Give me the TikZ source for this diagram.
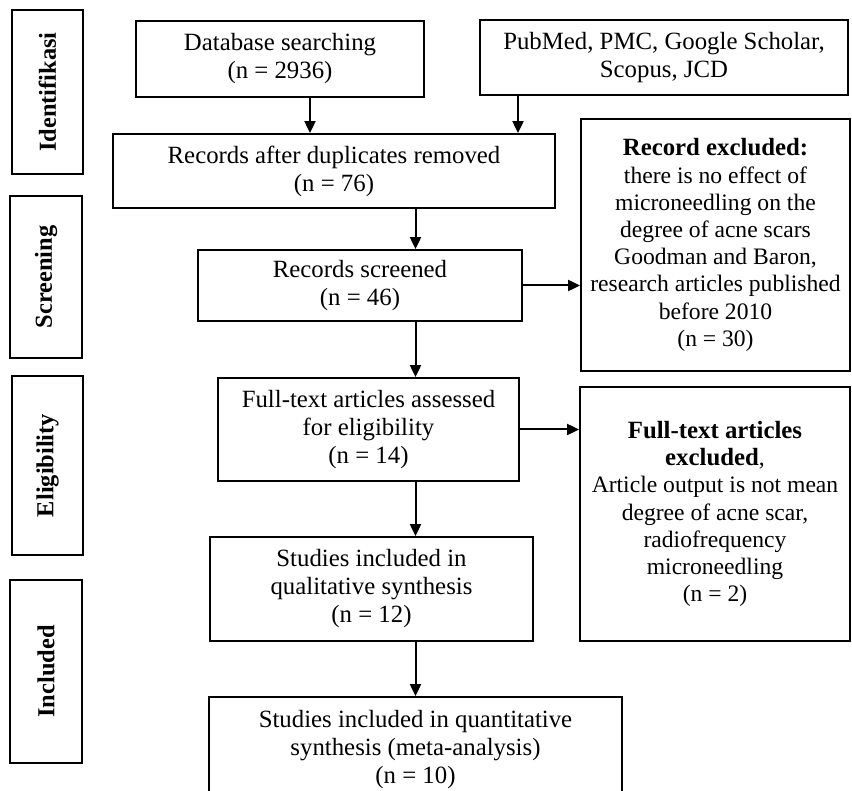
\documentclass[tikz,border=0pt]{standalone}
\usepackage{fontspec}
\setmainfont{Liberation Serif}
\usetikzlibrary{positioning,arrows.meta}

\begin{document}
\begin{tikzpicture}[
  x=0.5pt,y=-0.5pt,
  every node/.style={font=\fontsize{12.4}{14}\selectfont,align=center,inner sep=2pt},
  box/.style={draw,line width=0.9pt,rectangle},
  side/.style={box,font=\fontsize{11.8}{13.6}\selectfont},
  phase/.style={box,rotate=90,font=\fontsize{12.2}{14}\selectfont\bfseries},
  arr/.style={-{Triangle[length=6pt,width=5.5pt]},line width=1pt}
]
  \useasboundingbox (0,0) rectangle (852,791);

  % phase labels
  \node[phase,minimum width=82pt,minimum height=35.5pt] (ident) at (47.5,92) {Identifikasi};
  \node[phase,minimum width=81pt,minimum height=36pt] (screen) at (46,277) {Screening};
  \node[phase,minimum width=89.5pt,minimum height=35.5pt] (elig) at (47.5,465.5) {Eligibility};
  \node[phase,minimum width=91.5pt,minimum height=36pt] (incl) at (46,671.5) {Included};

  % flow boxes
  \node[box,minimum width=144pt,minimum height=38pt] (db) at (280,59) {Database searching\\(n = 2936)};
  \node[box,minimum width=184pt,minimum height=37.5pt] (src) at (664,57.5) {PubMed, PMC, Google Scholar,\\Scopus, JCD};
  \node[box,minimum width=221pt,minimum height=37pt] (dup) at (334,171) {Records after duplicates removed\\(n = 76)};
  \node[box,minimum width=162pt,minimum height=35.5pt] (scr) at (360,285.5) {Records screened\\(n = 46)};
  \node[side,minimum width=134.5pt,minimum height=126pt] (excl) at (715.5,245) {\textbf{\fontsize{12.4}{14}\selectfont Record excluded:}\\there is no effect of\\microneedling on the\\degree of acne scars\\Goodman and Baron,\\research articles published\\before 2010\\(n = 30)};
  \node[box,minimum width=150.5pt,minimum height=51.5pt] (full) at (368.5,429.5) {Full-text articles assessed\\for eligibility\\(n = 14)};
  \node[side,minimum width=135pt,minimum height=127pt] (fullex) at (715,514) {\textbf{\fontsize{12.4}{14}\selectfont Full-text articles}\\\textbf{\fontsize{12.4}{14}\selectfont excluded},\\Article output is not mean\\degree of acne scar,\\radiofrequency\\microneedling\\(n = 2)};
  \node[box,minimum width=161.5pt,minimum height=52pt] (qual) at (371.5,589) {Studies included in\\qualitative synthesis\\(n = 12)};
  \node[box,minimum width=206.5pt,minimum height=53pt] (quant) at (415.5,750) {Studies included in quantitative\\synthesis (meta-analysis)\\(n = 10)};

  \coordinate (dbout) at ([xshift=15pt]db.south);
  \coordinate (srcout) at ([xshift=-73pt]src.south);

  \draw[arr] (dbout) -- (dbout |- dup.north);
  \draw[arr] (srcout) -- (srcout |- dup.north);
  \draw[arr] (dup.south -| quant.north) -- (scr.north -| quant.north);
  \draw[arr] (scr.east) -- (scr.east -| excl.west);
  \draw[arr] (scr.south -| quant.north) -- (full.north -| quant.north);
  \draw[arr] (full.east) -- (full.east -| fullex.west);
  \draw[arr] (full.south -| quant.north) -- (qual.north -| quant.north);
  \draw[arr] (qual.south -| quant.north) -- (quant.north);
\end{tikzpicture}
\end{document}
